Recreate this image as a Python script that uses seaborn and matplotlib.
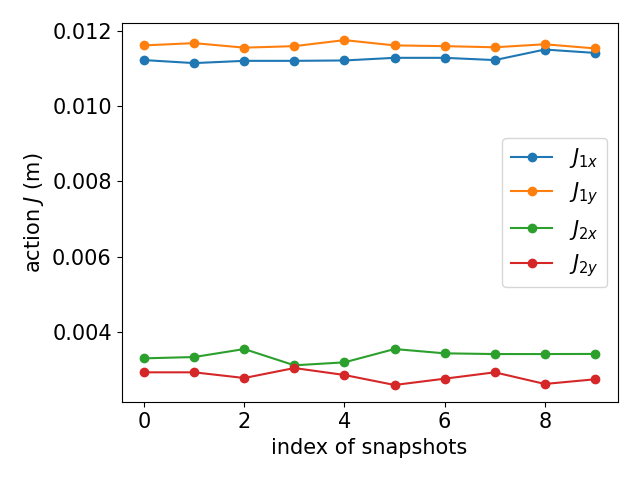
import numpy as np
import pandas as pd
import matplotlib
matplotlib.use("Agg")
import matplotlib.pyplot as plt
import seaborn as sns

snapshots = np.arange(10)
j1x = [0.01122, 0.01114, 0.01120, 0.01120, 0.01121, 0.01128, 0.01128, 0.01122, 0.01150, 0.01141]
j1y = [0.01161, 0.01167, 0.01155, 0.01159, 0.01175, 0.01161, 0.01159, 0.01156, 0.01164, 0.01153]
j2x = [0.003303, 0.003338, 0.003550, 0.003118, 0.003197, 0.003550, 0.003436, 0.003417, 0.003417, 0.003420]
j2y = [0.002932, 0.002932, 0.002781, 0.003046, 0.002861, 0.002596, 0.002763, 0.002932, 0.002623, 0.002747]
labels = [r'$J_{1x}$', r'$J_{1y}$', r'$J_{2x}$', r'$J_{2y}$']
colors = ['#1f77b4', '#ff7f0e', '#2ca02c', '#d62728']

plt.rcParams['font.size'] = 15

fig, ax = plt.subplots(figsize=(6.4, 4.8), dpi=100)
for vals, lab, c in zip([j1x, j1y, j2x, j2y], labels, colors):
    df = pd.DataFrame({'snap': snapshots, 'J': vals})
    sns.lineplot(data=df, x='snap', y='J', ax=ax, color=c, label=lab,
                 marker='o', markersize=6, markeredgecolor=c, markeredgewidth=1)

ax.set_xlabel('index of snapshots')
ax.set_ylabel(r'action $J$ (m)')
ax.set_xticks([0, 2, 4, 6, 8])
ax.set_yticks([0.004, 0.006, 0.008, 0.010, 0.012])
ax.legend(loc='center right')
fig.tight_layout()
fig.savefig('out.png')
